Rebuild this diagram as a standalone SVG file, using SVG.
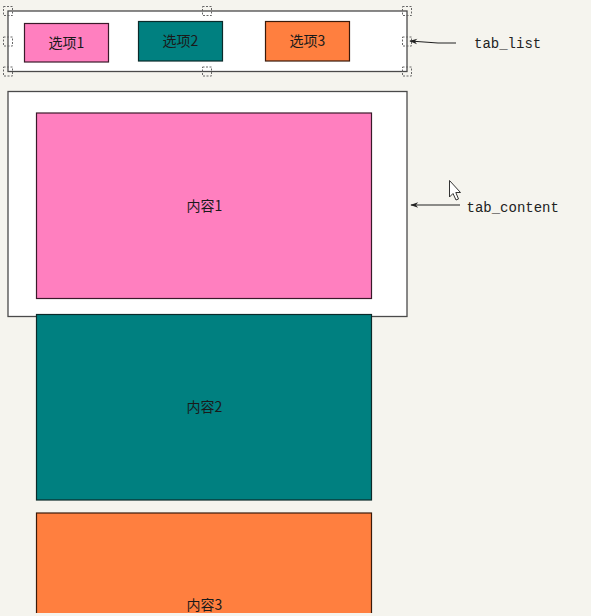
<svg xmlns="http://www.w3.org/2000/svg" width="591" height="616" viewBox="0 0 591 616">
<style>
.box{fill:#ffffff;stroke:#4a4a4a;stroke-width:1.3}
.pink{fill:#ff7fbf;stroke:#3a1a2a;stroke-width:1.2}
.teal{fill:#008080;stroke:#0a2a2a;stroke-width:1.2}
.orange{fill:#ff7f3f;stroke:#3a1a0a;stroke-width:1.2}
.cn{font-family:"Noto Sans CJK SC","Liberation Sans",sans-serif;font-size:14px;fill:#1a1a1a;text-anchor:middle}
.lbl{font-family:"Liberation Mono","DejaVu Sans Mono",monospace;font-size:14px;fill:#222}
.handle{fill:none;stroke:#666;stroke-width:1;stroke-dasharray:2 1.5}
.conn{fill:none;stroke:#222;stroke-width:1.2}
</style>
<defs>
<marker id="arr" viewBox="0 0 10 10" refX="9" refY="5" markerWidth="9" markerHeight="8" orient="auto" markerUnits="userSpaceOnUse">
<path d="M10,5 L0,1.5 L3,5 L0,8.5 Z" fill="#222"/>
</marker>
</defs>
<rect x="0" y="0" width="591" height="616" fill="#f5f4ee"/>
<g id="tab_list">
<rect class="box" x="8" y="11" width="399" height="60.5"/>
<g id="tab1"><rect class="pink" x="24.5" y="23.5" width="84" height="38.5"/><text class="cn" x="66.5" y="47.5">选项1</text></g>
<g id="tab2"><rect class="teal" x="138.5" y="21.5" width="84" height="39.5"/><text class="cn" x="180.5" y="46">选项2</text></g>
<g id="tab3"><rect class="orange" x="265.5" y="21.5" width="84" height="39.5"/><text class="cn" x="307.5" y="46">选项3</text></g>
<g id="handles">
<rect class="handle" x="3.5" y="6.5" width="9" height="9"/>
<rect class="handle" x="202.5" y="6.5" width="9" height="9"/>
<rect class="handle" x="402.5" y="6.5" width="9" height="9"/>
<rect class="handle" x="3.5" y="37" width="9" height="9"/>
<rect class="handle" x="402.5" y="37" width="9" height="9"/>
<rect class="handle" x="3.5" y="67" width="9" height="9"/>
<rect class="handle" x="202.5" y="67" width="9" height="9"/>
<rect class="handle" x="402.5" y="67" width="9" height="9"/>
</g>
</g>
<g id="tab_content">
<rect class="box" x="8" y="91.5" width="399" height="225"/>
<g id="content1"><rect class="pink" x="36.5" y="113" width="335" height="185.5"/><text class="cn" x="204.5" y="210.5">内容1</text></g>
</g>
<g id="content2"><rect class="teal" x="36.5" y="314.5" width="335" height="185.5"/><text class="cn" x="204.5" y="412">内容2</text></g>
<g id="content3"><rect class="orange" x="36.5" y="513" width="335" height="110"/><text class="cn" x="204.5" y="610">内容3</text></g>
<rect x="0" y="613" width="591" height="3" fill="#f5f4ee"/>
<g id="connectors">
<path class="conn" d="M456,43 L438,43 L410,41" marker-end="url(#arr)"/>
<path class="conn" d="M460,205 L411,205" marker-end="url(#arr)"/>
</g>
<g id="labels">
<text class="lbl" x="474" y="48">tab_list</text>
<text class="lbl" x="466.5" y="212">tab_content</text>
</g>
<g id="cursor">
<path d="M449.5,180.5 L449.5,197 L453,193.5 L456,200 L458.5,199 L455.8,192.5 L460.5,192.5 Z" fill="#ffffff" stroke="#333" stroke-width="1"/>
</g>
</svg>
